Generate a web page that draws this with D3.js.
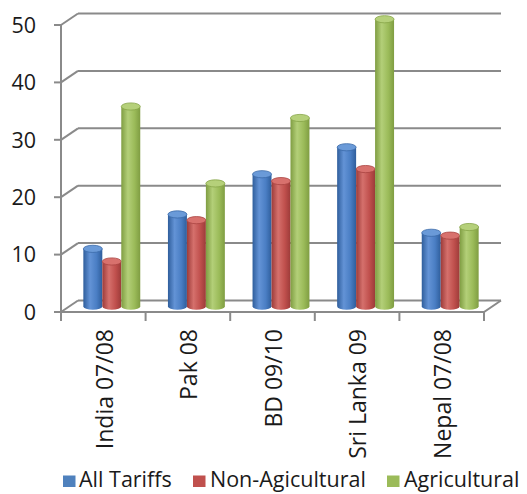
<!DOCTYPE html>
<html><head><meta charset="utf-8">
<script src="https://cdn.jsdelivr.net/npm/d3@7"></script>
<style>
html,body{margin:0;padding:0;background:#fff;}
svg{display:block;font-family:"Open Sans",sans-serif;}
</style></head>
<body><svg id="c" width="527" height="494"></svg>
<script>
const categories = ["India 07/08","Pak 08","BD 09/10","Sri Lanka 09","Nepal 07/08"];
const seriesNames = ["All Tariffs","Non-Agicultural","Agricultural"];
const allTariffs = [10,16,23,27.7,12.8];
const nonAgricultural = [7.8,15,21.8,23.9,12.3];
const agricultural = [34.8,21.4,32.8,50,13.8];
const yTicks = [0,10,20,30,40,50];
const seriesValues = [allTariffs, nonAgricultural, agricultural];
const colors = [
  {dark:"#2f5e9c", mid:"#4a7ec4", light:"#6393d6", top:"#6a9ad8", stroke:"#3a6aa8", sw:"#4f81bd"},
  {dark:"#9c3b39", mid:"#c0504d", light:"#d5706c", top:"#d8716d", stroke:"#a94441", sw:"#c0504d"},
  {dark:"#7f9d42", mid:"#9bbb59", light:"#b3cf78", top:"#b5d07a", stroke:"#86a548", sw:"#9bbb59"}
];

const svg = d3.select("#c");
const x0 = 61, x1 = 484, dx = 17, dy = -11.5;
const y = d3.scaleLinear().domain([0,50]).range([312,25]);
const xb = d3.scaleBand().domain(categories).range([x0,x1]).paddingInner(0).paddingOuter(0);
const xs = d3.scaleBand().domain(d3.range(3)).range([0,xb.bandwidth()]).paddingInner(0).paddingOuter(0.73);

const defs = svg.append("defs");
colors.forEach((c,i)=>{
  const g = defs.append("linearGradient").attr("id","g"+i).attr("x1","0").attr("x2","1").attr("y1","0").attr("y2","0");
  g.append("stop").attr("offset","0%").attr("stop-color",c.dark);
  g.append("stop").attr("offset","35%").attr("stop-color",c.light);
  g.append("stop").attr("offset","70%").attr("stop-color",c.mid);
  g.append("stop").attr("offset","100%").attr("stop-color",c.dark);
});

const grid = "#8a8a8a";
// back wall gridlines + left wall diagonals
yTicks.forEach(t=>{
  const yf = y(t);
  svg.append("line").attr("x1",x0+dx).attr("x2",x1+dx).attr("y1",yf+dy).attr("y2",yf+dy)
    .attr("stroke",grid).attr("stroke-width",2);
  svg.append("line").attr("x1",x0).attr("x2",x0+dx).attr("y1",yf).attr("y2",yf+dy)
    .attr("stroke",grid).attr("stroke-width",2);
});
// floor
svg.append("path").attr("d",`M${x0},${y(0)}L${x1},${y(0)}L${x1+dx},${y(0)+dy}`)
  .attr("fill","none").attr("stroke",grid).attr("stroke-width",2);
// front y axis
svg.append("line").attr("x1",x0).attr("x2",x0).attr("y1",y(50)).attr("y2",y(0)+9)
  .attr("stroke",grid).attr("stroke-width",2);
yTicks.forEach(t=>{
  svg.append("line").attr("x1",x0-7).attr("x2",x0).attr("y1",y(t)).attr("y2",y(t))
    .attr("stroke",grid).attr("stroke-width",2);
});
// category ticks
categories.forEach((c,i)=>{
  const xx = xb(c)+xb.bandwidth();
  svg.append("line").attr("x1",xx).attr("x2",xx).attr("y1",y(0)).attr("y2",y(0)+9)
    .attr("stroke",grid).attr("stroke-width",2);
});

// bars (cylinders)
const rx = xs.bandwidth()/2, ry = 3.6;
const base = y(0)+dy/2;
categories.forEach((c,ci)=>{
  seriesValues.forEach((vals,si)=>{
    const v = vals[ci];
    const cx = xb(c)+xs(si)+rx+dx/2;
    const yt = y(v)+dy/2;
    svg.append("path")
      .attr("d",`M${cx-rx},${yt}L${cx-rx},${base}A${rx},${ry} 0 0 0 ${cx+rx},${base}L${cx+rx},${yt}Z`)
      .attr("fill",`url(#g${si})`);
    svg.append("ellipse").attr("cx",cx).attr("cy",yt).attr("rx",rx).attr("ry",ry)
      .attr("fill",colors[si].top).attr("stroke",colors[si].stroke).attr("stroke-width",0.8);
  });
});

// y tick labels
yTicks.forEach(t=>{
  svg.append("text").attr("x",36).attr("y",y(t)).attr("dy","0.36em")
    .attr("text-anchor","end").attr("font-size",21.5).attr("fill","#1a1a1a").text(t);
});
// category labels
categories.forEach(c=>{
  const cx = xb(c)+xb.bandwidth()/2;
  svg.append("text").attr("transform",`translate(${cx+1},329) rotate(-90)`)
    .attr("text-anchor","end").attr("dy","0.36em").attr("font-size",23).attr("fill","#1a1a1a").text(c);
});
// legend
const legX = [63,193,387], legT = [79,210,404];
seriesNames.forEach((s,i)=>{
  svg.append("rect").attr("x",legX[i]).attr("y",475.5).attr("width",12.5).attr("height",11.5).attr("fill",colors[i].sw);
  svg.append("text").attr("x",legT[i]).attr("y",487).attr("font-size",21.5).attr("fill","#1a1a1a").text(s);
});
</script></body></html>
